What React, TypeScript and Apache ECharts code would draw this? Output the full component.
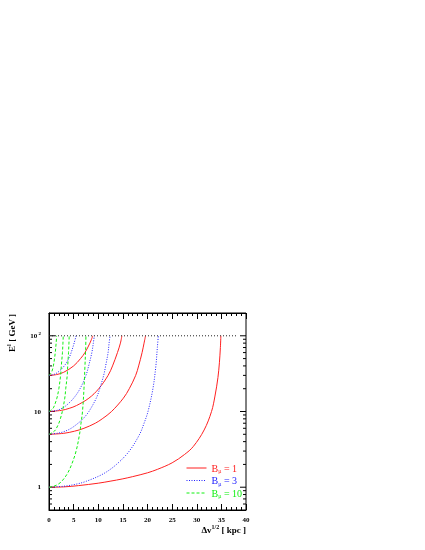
import React, { useEffect, useRef } from 'react';
import * as echarts from 'echarts';

// Δv^{1/2} [kpc] vs E [GeV] curves
const red1 = [[0,1],[3,1.01],[6,1.05],[10,1.13],[12.4,1.2],[15,1.29],[17,1.38],[20,1.55],[22,1.72],[25,2.1],[27.5,2.7],[29.3,3.45],[31.5,5.7],[33,10],[33.7,16],[34.3,28],[34.6,44],[34.8,70],[34.9,100]];
const red5 = [[0,5],[3,5.15],[5.2,5.5],[7.1,6],[9.4,7],[10.8,8],[12.7,10],[15.1,15],[16.3,20],[17.6,30],[18.2,40],[18.9,60],[19.3,80],[19.6,100]];
const red10 = [[0,10],[2.5,10.35],[4.1,11],[5.6,12],[8.1,15],[10.1,20],[12,30],[12.9,40],[13.9,60],[14.5,80],[14.8,100]];
const red30 = [[0,30],[1.5,30.7],[3,33],[5,40],[6.4,50],[7.3,60],[8.3,80],[8.9,100]];

const blue1 = [[0,1],[3,1.03],[5.6,1.1],[7.6,1.2],[11,1.5],[13.7,2],[16.3,3],[18.4,5],[19.3,7],[20.1,10],[21.1,20],[21.7,40],[22,70],[22.2,100]];
const blue5 = [[0,5],[2,5.2],[3.3,5.5],[4.5,6],[5.9,7],[6.9,8],[8.1,10],[9.6,15],[10.3,20],[11.1,30],[11.5,40],[12,60],[12.2,80],[12.4,100]];
const blue10 = [[0,10],[1.6,10.35],[2.6,11],[3.5,12],[5,15],[6.3,20],[7.5,30],[8.05,40],[8.7,60],[9,80],[9.2,100]];
const blue30 = [[0,30],[0.9,30.7],[1.8,33],[3.1,40],[4,50],[4.5,60],[5.1,80],[5.5,100]];

const green1 = [[0,1],[1,1.03],[1.9,1.1],[2.6,1.2],[3.7,1.5],[4.6,2],[5.5,3],[6.2,5],[6.5,7],[6.8,10],[7.1,20],[7.3,40],[7.45,70],[7.5,100]];
const green5 = [[0,5],[1.1,5.5],[1.5,6],[2,7],[2.3,8],[2.7,10],[3.2,15],[3.4,20],[3.7,30],[3.8,40],[3.96,60],[4.05,80],[4.1,100]];
const green10 = [[0,10],[0.81,11],[1.1,12],[1.6,15],[2,20],[2.35,30],[2.5,40],[2.73,60],[2.83,80],[2.9,100]];
const green30 = [[0,30],[0.52,33],[0.88,40],[1.12,50],[1.27,60],[1.45,80],[1.56,100]];

const cutoffLine = [[0,100],[38,100]];

const legendNames = ['B1', 'B3', 'B10'];
const legendLabels = ['1', '3', '10'];
const yMajorTicks = [1, 10, 100];
const yMinorTicks = [0.6,0.7,0.8,0.9,2,3,4,5,6,7,8,9,20,30,40,50,60,70,80,90];

const RED = '#ff2020';
const BLUE = '#2020ff';
const GREEN = '#10f010';
const FONT = '"Liberation Serif", "DejaVu Serif", serif';

export default function App() {
  const ref = useRef<HTMLDivElement>(null);
  useEffect(() => {
    if (!ref.current) return;
    const chart = echarts.init(ref.current, null, { renderer: 'svg' });

    const mk = (name: string, data: number[][], color: string, type: any) => ({
      type: 'line', name, data, showSymbol: false, symbol: 'none',
      smooth: 0.35,
      lineStyle: { color, width: 1, type }, itemStyle: { color },
      xAxisIndex: 0, yAxisIndex: 0, silent: true,
    });

    const tickData = [
      ...yMajorTicks.map((v) => [0, v, 1]),
      ...yMinorTicks.map((v) => [0, v, 0]),
    ];

    const option: any = {
      animation: false,
      grid: { left: 49, right: 179, top: 313, bottom: 40, show: true, borderColor: '#000', borderWidth: 1, backgroundColor: 'transparent' },
      xAxis: [
        {
          type: 'value', min: 0, max: 40, interval: 5,
          axisLine: { show: true, lineStyle: { color: '#000', width: 1 } },
          axisTick: { show: true, inside: true, length: 6, lineStyle: { color: '#000' } },
          minorTick: { show: true, splitNumber: 5, length: 3, lineStyle: { color: '#000' } },
          splitLine: { show: false },
          axisLabel: { fontFamily: FONT, fontWeight: 'bold', fontSize: 7, color: '#000', margin: 6 },
        },
        {
          type: 'value', min: 0, max: 40, interval: 5, position: 'top',
          axisLine: { show: true, lineStyle: { color: '#000', width: 1 } },
          axisTick: { show: true, inside: true, length: 6, lineStyle: { color: '#000' } },
          minorTick: { show: true, splitNumber: 5, length: 3, lineStyle: { color: '#000' } },
          splitLine: { show: false },
          axisLabel: { show: false },
        },
      ],
      yAxis: [
        {
          type: 'log', logBase: 10, min: 0.5, max: 200,
          axisLine: { show: true, lineStyle: { color: '#000', width: 1 } },
          axisTick: { show: false },
          splitLine: { show: false },
          axisLabel: {
            fontFamily: FONT, fontWeight: 'bold', fontSize: 7, color: '#000', margin: 8,
            showMinLabel: false, showMaxLabel: false,
            formatter: (v: number) => {
              const l = Math.round(Math.log10(v) * 1000) / 1000;
              if (l === 0) return '{n|1}';
              if (l === 1) return '{n|10}';
              if (l === 2) return '{n|10}{p| 2}';
              return '';
            },
            rich: {
              n: { fontFamily: FONT, fontWeight: 'bold', fontSize: 7, lineHeight: 10, verticalAlign: 'middle' },
              p: { fontFamily: FONT, fontWeight: 'bold', fontSize: 5, lineHeight: 5, verticalAlign: 'top' },
            },
          },
        },
      ],
      legend: {
        orient: 'vertical', left: 186, top: 463, padding: 0,
        itemWidth: 20, itemHeight: 12, itemGap: 1.5,
        itemStyle: { opacity: 0, borderWidth: 0 },
        lineStyle: { width: 1 },
        data: legendNames.map((n, i) => ({ name: n, textStyle: { color: [RED, BLUE, GREEN][i] } })),
        formatter: (name: string) => {
          const i = legendNames.indexOf(name);
          return '{n|B}{s|μ}{n| = ' + legendLabels[i] + '}';
        },
        textStyle: {
          fontFamily: FONT, fontSize: 10,
          rich: {
            n: { fontFamily: FONT, fontSize: 10, lineHeight: 12, verticalAlign: 'middle' },
            s: { fontFamily: FONT, fontSize: 6, lineHeight: 6, verticalAlign: 'bottom' },
          },
        },
        selectedMode: false,
      },
      series: [
        mk('B1', red1, RED, 'solid'),
        mk('B1', red5, RED, 'solid'),
        mk('B1', red10, RED, 'solid'),
        mk('B1', red30, RED, 'solid'),
        mk('B3', blue1, BLUE, [1, 1.5]),
        mk('B3', blue5, BLUE, [1, 1.5]),
        mk('B3', blue10, BLUE, [1, 1.5]),
        mk('B3', blue30, BLUE, [1, 1.5]),
        mk('B10', green1, GREEN, [3, 2]),
        mk('B10', green5, GREEN, [3, 2]),
        mk('B10', green10, GREEN, [3, 2]),
        mk('B10', green30, GREEN, [3, 2]),
        {
          type: 'line', name: 'cut', data: cutoffLine, showSymbol: false, symbol: 'none',
          lineStyle: { color: '#222', width: 1, type: [1, 2] }, silent: true,
        },
        {
          type: 'custom', name: 'yticks', data: tickData, silent: true,
          encode: { x: 0, y: 1 }, clip: false,
          renderItem: (params: any, api: any) => {
            const v = api.value(1);
            const major = api.value(2) === 1;
            const len = major ? 6 : 3;
            const pL = api.coord([0, v]);
            const pR = api.coord([40, v]);
            return {
              type: 'group',
              children: [
                { type: 'line', shape: { x1: pL[0], y1: pL[1], x2: pL[0] + len, y2: pL[1] }, style: { stroke: '#000', lineWidth: 1 } },
                { type: 'line', shape: { x1: pR[0] - len, y1: pR[1], x2: pR[0], y2: pR[1] }, style: { stroke: '#000', lineWidth: 1 } },
              ],
            };
          },
        },
      ],
      graphic: [
        {
          type: 'text', x: 12, y: 314, rotation: Math.PI / 2,
          style: {
            text: '{n|E}{p|l}{n| [ GeV ]}', align: 'right', verticalAlign: 'middle',
            rich: {
              n: { fontFamily: FONT, fontWeight: 'bold', fontSize: 9, lineHeight: 12, verticalAlign: 'middle', fill: '#000' },
              p: { fontFamily: FONT, fontWeight: 'bold', fontSize: 6, lineHeight: 6, verticalAlign: 'top', fill: '#000' },
            },
          },
        },
        {
          type: 'text', x: 246, y: 530,
          style: {
            text: '{n|Δv}{p|1/2}{n| [ kpc ]}', align: 'right', verticalAlign: 'middle',
            rich: {
              n: { fontFamily: FONT, fontWeight: 'bold', fontSize: 9, lineHeight: 12, verticalAlign: 'middle', fill: '#000' },
              p: { fontFamily: FONT, fontWeight: 'bold', fontSize: 6, lineHeight: 6, verticalAlign: 'top', fill: '#000' },
            },
          },
        },
      ],
    };
    chart.setOption(option);
    return () => chart.dispose();
  }, []);
  return <div ref={ref} style={{ position: 'fixed', left: 0, top: 0, width: 425, height: 550 }} />;
}
